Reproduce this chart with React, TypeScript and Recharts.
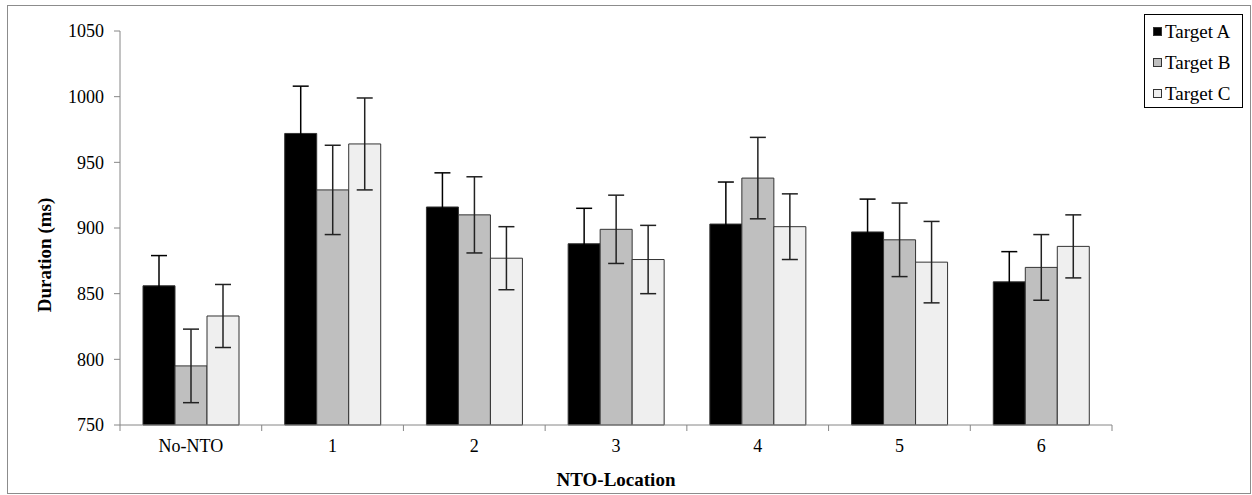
import React from "react";
import { BarChart, Bar, XAxis, YAxis, ErrorBar } from "recharts";

// Mean durations (ms) and their error margins per NTO location
const locations = ["No-NTO", "1", "2", "3", "4", "5", "6"];
const targetA = [856, 972, 916, 888, 903, 897, 859];
const targetB = [795, 929, 910, 899, 938, 891, 870];
const targetC = [833, 964, 877, 876, 901, 874, 886];
const errA = [23, 36, 26, 27, 32, 25, 23];
const errB = [28, 34, 29, 26, 31, 28, 25];
const errC = [24, 35, 24, 26, 25, 31, 24];
const yTicks = [750, 800, 850, 900, 950, 1000, 1050];

const seriesNames = ["Target A", "Target B", "Target C"];
const seriesFills = ["#000000", "#bfbfbf", "#efefef"];

const data = locations.map((loc, i) => ({
  loc,
  a: targetA[i],
  b: targetB[i],
  c: targetC[i],
  aErr: errA[i],
  bErr: errB[i],
  cErr: errC[i],
}));

const FONT = "'Liberation Serif', 'Times New Roman', serif";
const AXIS = "#868686";
const PLOT_W = 992;

function CategoryTick(props: any) {
  const { x, y, payload, index } = props;
  const half = payload?.offset ?? PLOT_W / locations.length / 2;
  return (
    <g>
      <line x1={x - half} x2={x - half} y1={y} y2={y + 6} stroke={AXIS} />
      {index === locations.length - 1 && (
        <line x1={x + half} x2={x + half} y1={y} y2={y + 6} stroke={AXIS} />
      )}
      <text
        x={x}
        y={y + 23}
        textAnchor="middle"
        dominantBaseline="middle"
        fontFamily={FONT}
        fontSize={18}
        fill="#000"
      >
        {payload.value}
      </text>
    </g>
  );
}

export default function App() {
  return (
    <div
      style={{
        position: "absolute",
        left: 0,
        top: 0,
        width: 1252,
        height: 495,
        background: "#fff",
        fontFamily: FONT,
      }}
    >
      <div
        style={{
          position: "absolute",
          left: 7,
          top: 5,
          width: 1244,
          height: 489,
          border: "1px solid #8c8c8c",
          boxSizing: "border-box",
        }}
      />
      <BarChart
        width={1252}
        height={495}
        data={data}
        margin={{ top: 31, right: 140, bottom: 30, left: 60 }}
        barCategoryGap={23}
        barGap={0}
        style={{ position: "absolute", left: 0, top: 0 }}
      >
        <XAxis
          dataKey="loc"
          height={40}
          stroke={AXIS}
          tickLine={false}
          tickSize={0}
          tickMargin={0}
          tick={<CategoryTick />}
          interval={0}
        />
        <YAxis
          width={60}
          domain={[750, 1050]}
          ticks={yTicks}
          stroke={AXIS}
          tickSize={6}
          tickMargin={10}
          tick={{ fill: "#000", fontFamily: FONT, fontSize: 18 }}
        />
        <Bar dataKey="a" name={seriesNames[0]} fill={seriesFills[0]} stroke="#333" strokeWidth={1} isAnimationActive={false}>
          <ErrorBar dataKey="aErr" width={8} stroke="#000" strokeWidth={1.5} />
        </Bar>
        <Bar dataKey="b" name={seriesNames[1]} fill={seriesFills[1]} stroke="#333" strokeWidth={1} isAnimationActive={false}>
          <ErrorBar dataKey="bErr" width={8} stroke="#222" strokeWidth={1.5} />
        </Bar>
        <Bar dataKey="c" name={seriesNames[2]} fill={seriesFills[2]} stroke="#333" strokeWidth={1} isAnimationActive={false}>
          <ErrorBar dataKey="cErr" width={8} stroke="#222" strokeWidth={1.5} />
        </Bar>
      </BarChart>

      {/* axis titles */}
      <div
        style={{
          position: "absolute",
          left: 45,
          top: 255,
          transform: "translate(-50%, -50%) rotate(-90deg)",
          fontWeight: "bold",
          fontSize: 19,
          whiteSpace: "nowrap",
        }}
      >
        Duration (ms)
      </div>
      <div
        style={{
          position: "absolute",
          left: 616,
          top: 480,
          transform: "translate(-50%, -50%)",
          fontWeight: "bold",
          fontSize: 19,
          whiteSpace: "nowrap",
        }}
      >
        NTO-Location
      </div>

      {/* legend */}
      <div
        style={{
          position: "absolute",
          left: 1144,
          top: 14,
          width: 99,
          height: 94,
          border: "1px solid #000",
          boxSizing: "border-box",
          paddingTop: 1,
        }}
      >
        {seriesNames.map((name, i) => (
          <div
            key={name}
            style={{ display: "flex", alignItems: "center", height: 31, paddingLeft: 8 }}
          >
            <span
              style={{
                width: 9,
                height: 9,
                background: seriesFills[i],
                border: "1px solid #333",
                boxSizing: "border-box",
                marginRight: 3,
              }}
            />
            <span style={{ fontSize: 19, lineHeight: "19px" }}>{name}</span>
          </div>
        ))}
      </div>
    </div>
  );
}
